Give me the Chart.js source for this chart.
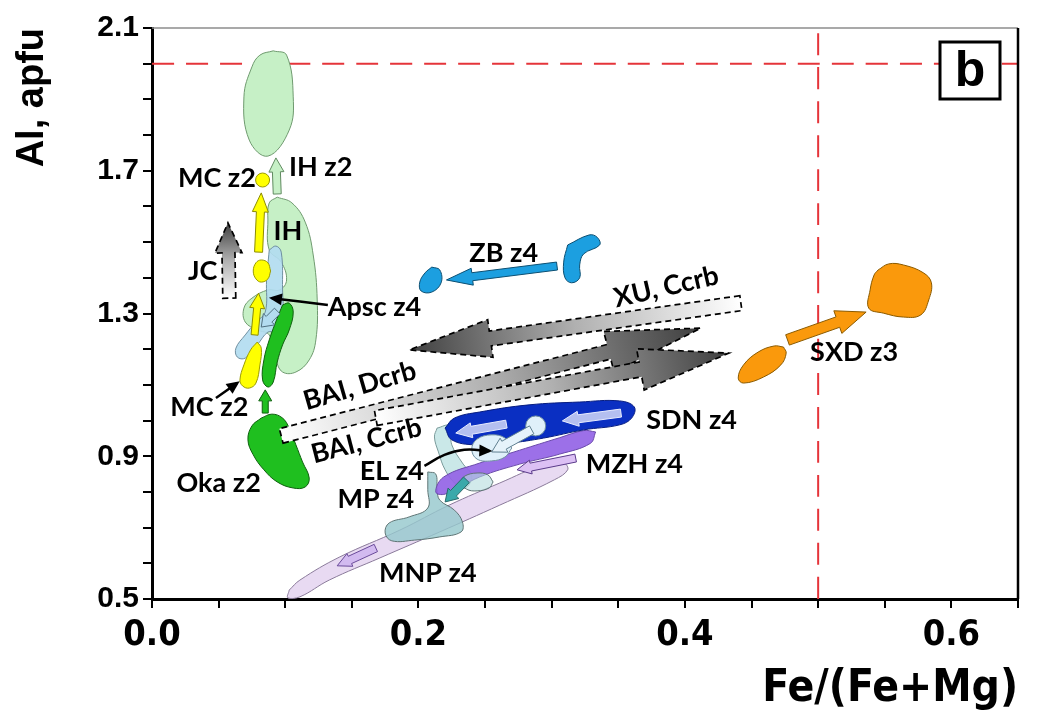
<!DOCTYPE html>
<html>
<head>
<meta charset="utf-8">
<script src="https://cdn.jsdelivr.net/npm/chart.js@4.4.1/dist/chart.umd.min.js"></script>
<style>html,body{margin:0;background:#fff}</style>
</head>
<body>
<canvas id="c" width="1042" height="726"></canvas>
<script>
// outlines of the fields, [Fe/(Fe+Mg), Al]
const ihz2 = [[0.091,2.036],[0.101,2.024],[0.106,1.907],[0.103,1.814],[0.087,1.741],[0.073,1.786],[0.069,1.907],[0.075,1.991],[0.081,2.024]];
const ih = [[0.094,1.626],[0.105,1.610],[0.115,1.556],[0.121,1.464],[0.124,1.338],[0.123,1.226],[0.118,1.170],[0.108,1.136],[0.098,1.136],[0.093,1.170],[0.088,1.240],[0.079,1.254],[0.070,1.276],[0.069,1.315],[0.075,1.343],[0.087,1.366],[0.096,1.366],[0.101,1.394],[0.097,1.444],[0.088,1.478],[0.087,1.562],[0.088,1.610]];
const apsc = [[0.088,1.478],[0.093,1.489],[0.097,1.472],[0.098,1.366],[0.098,1.268],[0.093,1.248],[0.087,1.248],[0.079,1.212],[0.070,1.175],[0.064,1.178],[0.063,1.203],[0.070,1.240],[0.078,1.276],[0.085,1.304],[0.086,1.394]];
const mcEll = [[0.089,1.419],[0.087,1.442],[0.082,1.450],[0.078,1.442],[0.076,1.419],[0.078,1.397],[0.082,1.388],[0.087,1.397]];
const mcLow = [[0.079,1.220],[0.082,1.203],[0.081,1.156],[0.078,1.105],[0.073,1.091],[0.068,1.097],[0.066,1.114],[0.069,1.156],[0.074,1.198]];
const grnBar = [[0.098,1.324],[0.103,1.329],[0.106,1.304],[0.103,1.254],[0.098,1.212],[0.094,1.164],[0.091,1.108],[0.087,1.094],[0.083,1.114],[0.084,1.170],[0.088,1.226],[0.094,1.287]];
const oka = [[0.082,1.007],[0.090,1.018],[0.098,1.007],[0.103,0.979],[0.108,0.932],[0.113,0.884],[0.118,0.839],[0.115,0.814],[0.106,0.811],[0.094,0.828],[0.084,0.862],[0.076,0.904],[0.072,0.946],[0.075,0.985]];
const mnp = [[0.103,0.525],[0.111,0.553],[0.141,0.618],[0.186,0.693],[0.223,0.763],[0.261,0.825],[0.294,0.876],[0.309,0.881],[0.312,0.862],[0.302,0.834],[0.261,0.763],[0.216,0.688],[0.171,0.615],[0.133,0.553],[0.111,0.506],[0.102,0.503]];
const mp = [[0.207,0.856],[0.213,0.850],[0.214,0.806],[0.216,0.777],[0.227,0.749],[0.233,0.716],[0.232,0.688],[0.216,0.674],[0.197,0.665],[0.180,0.663],[0.175,0.685],[0.178,0.713],[0.193,0.730],[0.207,0.755],[0.207,0.806]];
const elBand = [[0.214,0.979],[0.223,0.985],[0.225,0.932],[0.233,0.881],[0.240,0.845],[0.235,0.811],[0.228,0.822],[0.220,0.862],[0.215,0.912],[0.212,0.954]];
const elTeal = [[0.256,0.828],[0.252,0.848],[0.244,0.853],[0.235,0.845],[0.232,0.828],[0.236,0.808],[0.244,0.803],[0.253,0.811]];
const mzh = [[0.333,0.968],[0.329,0.936],[0.306,0.906],[0.276,0.878],[0.246,0.842],[0.220,0.794],[0.213,0.800],[0.219,0.842],[0.246,0.881],[0.276,0.917],[0.306,0.952],[0.324,0.972]];
const sdn = [[0.220,0.979],[0.227,1.007],[0.246,1.024],[0.283,1.044],[0.321,1.052],[0.351,1.055],[0.362,1.038],[0.360,1.007],[0.351,0.988],[0.324,0.974],[0.294,0.951],[0.268,0.937],[0.242,0.932],[0.225,0.946]];
const elEll = [[0.270,0.923],[0.265,0.951],[0.255,0.960],[0.244,0.948],[0.240,0.920],[0.244,0.892],[0.255,0.887],[0.265,0.898]];
const zbSmall = [[0.210,1.430],[0.216,1.422],[0.217,1.386],[0.210,1.360],[0.202,1.363],[0.201,1.388],[0.205,1.414]];
const zbHook = [[0.312,1.492],[0.328,1.520],[0.334,1.514],[0.336,1.492],[0.324,1.467],[0.321,1.436],[0.321,1.400],[0.315,1.386],[0.310,1.400],[0.309,1.444]];
const sxdSmall = [[0.474,1.206],[0.476,1.189],[0.472,1.156],[0.459,1.122],[0.444,1.105],[0.440,1.119],[0.444,1.156],[0.455,1.192],[0.467,1.209]];
const sxdBig = [[0.545,1.422],[0.553,1.439],[0.564,1.436],[0.579,1.414],[0.585,1.386],[0.583,1.338],[0.577,1.296],[0.564,1.290],[0.549,1.301],[0.538,1.315],[0.539,1.366],[0.542,1.408]];
const mcDot = [[0.083,1.674]];
const elDot = [[0.288,0.985]];

// trend arrows, [tail, tip]
const yArrow1 = [[0.080,1.472],[0.082,1.638]];
const yArrow2 = [[0.077,1.240],[0.080,1.357]];
const ihArrow = [[0.094,1.635],[0.093,1.736]];
const okaArrow = [[0.085,1.021],[0.085,1.086]];
const apscArrow = [[0.094,1.307],[0.082,1.262]];
const zbArrow = [[0.304,1.433],[0.221,1.394]];
const sxdArrow = [[0.477,1.226],[0.536,1.304]];
const sdnArrow1 = [[0.352,1.021],[0.308,0.999]];
const sdnArrow2 = [[0.266,0.990],[0.228,0.965]];
const elArrow = [[0.285,0.974],[0.255,0.912]];
const mzhArrow = [[0.318,0.895],[0.274,0.862]];
const mpArrow = [[0.236,0.834],[0.220,0.772]];
const mnpArrow = [[0.168,0.643],[0.139,0.593]];
const jcArrow = [[0.058,1.343],[0.057,1.554]];
const xuBand = [[0.442,1.329],[0.193,1.198]];
const dcrbBand = [[0.097,0.957],[0.412,1.259]];
const ccrbBand = [[0.168,1.007],[0.433,1.189]];

// label pointers
const apscPtr = [[0.132,1.324],[0.090,1.343]];
const mcPtr = [[0.048,1.063],[0.064,1.105]];
const elPtr = [[0.2045,0.873],[0.2195,0.904],[0.2344,0.918],[0.2532,0.915]];

// reference lines
const redH = [[0,2.0],[0.65,2.0]];
const redV = [[0.5,0.5],[0.5,2.1]];

const labelText = ['MC z2','IH z2','IH','JC','Apsc z4','MC z2','Oka z2','BAI, Dcrb','BAI, Ccrb','EL z4','MP z4','MNP z4','SDN z4','MZH z4','ZB z4','XU, Ccrb','SXD z3'];
const labelX = [0.0487,0.1266,0.102,0.038,0.167,0.043,0.050,0.156,0.161,0.180,0.168,0.207,0.405,0.362,0.264,0.386,0.527];
const labelY = [1.680,1.710,1.531,1.419,1.318,1.038,0.825,1.097,0.943,0.859,0.778,0.573,1.002,0.878,1.470,1.374,1.192];
const labelAngle = [0,0,0,0,0,0,0,-16,-14.5,0,0,0,0,0,0,-13,0];

const xTicks = [0, 0.2, 0.4, 0.6];
const yTicks = [0.5, 0.9, 1.3, 1.7, 2.1];

const LBL = 'Lato, "Open Sans", sans-serif';
const AX = '"Liberation Sans", Arial, sans-serif';
const AXN = '"Liberation Sans Narrow", "DejaVu Sans Condensed", sans-serif';

function pts(a) { return a.map(p => ({x: p[0], y: p[1]})); }

function shape(a, fill, stroke) {
  const d = pts(a);
  d.push(d[0]);
  return {data: d, showLine: true, fill: 'shape', backgroundColor: fill, borderColor: stroke,
          borderWidth: 1, tension: 0.4, pointRadius: 0};
}
function dot(a, r, fill, stroke) {
  return {data: pts(a), showLine: false, pointRadius: r, backgroundColor: fill, borderColor: stroke, borderWidth: 1};
}
function line(a, color, w, dash) {
  return {data: pts(a), showLine: true, fill: false, borderColor: color, borderWidth: w,
          borderDash: dash || [], tension: 0.4, pointRadius: 0};
}

// bottom to top
const layers = [
  line(redH, '#e5343a', 2, [22, 12]),
  line(redV, '#e5343a', 2, [22, 12]),
  shape(ihz2, '#c6f0c6', '#6f9a6f'),
  shape(ih, '#c6f0c6', '#6f9a6f'),
  shape(apsc, 'rgba(178,220,240,0.92)', '#6f8fa0'),
  shape(mcEll, '#ffff00', '#9a9a00'),
  shape(mcLow, '#ffff00', '#9a9a00'),
  shape(grnBar, '#1fbf1f', '#0f600f'),
  shape(oka, '#1fbf1f', '#0f600f'),
  shape(mnp, '#e8daf2', '#8a7a9a'),
  shape(mp, 'rgba(150,200,205,0.82)', '#5f7575'),
  shape(elBand, 'rgba(196,230,230,0.9)', '#7a9a9a'),
  shape(mzh, 'rgba(148,100,230,0.92)', '#6a4aaa'),
  shape(elTeal, 'rgba(180,220,222,0.6)', '#5f7575'),
  shape(sdn, '#0a2fc2', '#061c80'),
  dot(elDot, 10, '#dff0fa', '#6f8fa0'),
  shape(elEll, '#dff0fa', '#6f8fa0'),
  shape(zbSmall, '#1c9fe0', '#0c4f72'),
  shape(zbHook, '#1c9fe0', '#0c4f72'),
  shape(sxdSmall, '#fa990c', '#8a5a00'),
  shape(sxdBig, '#fa990c', '#8a5a00'),
  dot(mcDot, 7, '#ffff00', '#9a9a00'),
  line(apscPtr, '#000', 2.5),
  line(mcPtr, '#000', 2.5),
  line(elPtr, '#000', 2.5)
];
const datasets = layers.map((d, i) => Object.assign(d, {order: layers.length - i}));

const arrowList = [
  {p: yArrow1, bw: 8, hw: 16, hl: 19, fill: '#ffff00', stroke: '#8c8c00'},
  {p: yArrow2, bw: 7, hw: 15, hl: 15, fill: '#ffff00', stroke: '#8c8c00'},
  {p: ihArrow, bw: 8, hw: 15, hl: 14, fill: '#c6f0c6', stroke: '#5f8a5f'},
  {p: okaArrow, bw: 6, hw: 13, hl: 11, fill: '#1fbf1f', stroke: '#0f600f'},
  {p: apscArrow, bw: 8, hw: 16, hl: 11, fill: '#b2dcf0', stroke: '#4f6f80'},
  {p: zbArrow, bw: 8, hw: 17, hl: 26, fill: '#1c9fe0', stroke: '#0c4f72'},
  {p: sxdArrow, bw: 11, hw: 24, hl: 30, fill: '#fa990c', stroke: '#8a5a00'},
  {p: sdnArrow1, bw: 8, hw: 15, hl: 16, fill: '#b4bff0', stroke: '#e8ecff'},
  {p: sdnArrow2, bw: 8, hw: 15, hl: 16, fill: '#b4bff0', stroke: '#e8ecff'},
  {p: elArrow, bw: 9, hw: 16, hl: 14, fill: '#e6f3fb', stroke: '#5f7f90'},
  {p: mzhArrow, bw: 8, hw: 14, hl: 14, fill: '#dcc0f4', stroke: '#5a3a8a'},
  {p: mpArrow, bw: 8, hw: 15, hl: 12, fill: '#3aa9aa', stroke: '#2a6a6a'},
  {p: mnpArrow, bw: 8, hw: 14, hl: 14, fill: '#d2baf0', stroke: '#6a4a9a'}
];
const bandList = [
  {p: xuBand, bw: 15, hw: 38, hl: 82},
  {p: dcrbBand, bw: 15, hw: 42, hl: 95},
  {p: ccrbBand, bw: 15, hw: 42, hl: 90},
  {p: jcArrow, bw: 13, hw: 27, hl: 30}
];

function arrowPath(ctx, a, b, bw, hw, hl) {
  const dx = b[0] - a[0], dy = b[1] - a[1], L = Math.hypot(dx, dy);
  const ux = dx / L, uy = dy / L, nx = -uy, ny = ux;
  const bx = b[0] - ux * hl, by = b[1] - uy * hl;
  ctx.beginPath();
  ctx.moveTo(a[0] + nx * bw / 2, a[1] + ny * bw / 2);
  ctx.lineTo(bx + nx * bw / 2, by + ny * bw / 2);
  ctx.lineTo(bx + nx * hw / 2, by + ny * hw / 2);
  ctx.lineTo(b[0], b[1]);
  ctx.lineTo(bx - nx * hw / 2, by - ny * hw / 2);
  ctx.lineTo(bx - nx * bw / 2, by - ny * bw / 2);
  ctx.lineTo(a[0] - nx * bw / 2, a[1] - ny * bw / 2);
  ctx.closePath();
}

const decor = {
  id: 'decor',
  afterDatasetsDraw(chart) {
    const {ctx, chartArea: ca, scales: {x, y}} = chart;
    const P = q => [x.getPixelForValue(q[0]), y.getPixelForValue(q[1])];
    ctx.save();
    // grey dashed trend bands
    bandList.forEach(s => {
      const a = P(s.p[0]), b = P(s.p[1]);
      const g = ctx.createLinearGradient(a[0], a[1], b[0], b[1]);
      g.addColorStop(0, '#ffffff');
      g.addColorStop(0.5, '#b0b0b0');
      g.addColorStop(1, '#3f3f3f');
      arrowPath(ctx, a, b, s.bw, s.hw, s.hl);
      ctx.fillStyle = g;
      ctx.fill();
      ctx.setLineDash([6, 4]);
      ctx.lineWidth = 1.7;
      ctx.strokeStyle = '#000';
      ctx.stroke();
    });
    ctx.setLineDash([]);
    arrowList.forEach(s => {
      arrowPath(ctx, P(s.p[0]), P(s.p[1]), s.bw, s.hw, s.hl);
      ctx.fillStyle = s.fill;
      ctx.fill();
      ctx.lineWidth = 1;
      ctx.strokeStyle = s.stroke;
      ctx.stroke();
    });
    // pointer heads
    [apscPtr, mcPtr, elPtr].forEach(p => {
      const a = P(p[p.length - 2]), b = P(p[p.length - 1]);
      const L = Math.hypot(b[0] - a[0], b[1] - a[1]);
      const ux = (b[0] - a[0]) / L, uy = (b[1] - a[1]) / L;
      ctx.beginPath();
      ctx.moveTo(b[0] + ux * 3, b[1] + uy * 3);
      ctx.lineTo(b[0] - ux * 10 - uy * 6, b[1] - uy * 10 + ux * 6);
      ctx.lineTo(b[0] - ux * 10 + uy * 6, b[1] - uy * 10 - ux * 6);
      ctx.closePath();
      ctx.fillStyle = '#000';
      ctx.fill();
    });
    // labels
    ctx.fillStyle = '#000';
    ctx.font = 'bold 27px ' + LBL;
    ctx.textAlign = 'center';
    ctx.textBaseline = 'middle';
    labelText.forEach((t, i) => {
      ctx.save();
      ctx.translate(x.getPixelForValue(labelX[i]), y.getPixelForValue(labelY[i]));
      ctx.rotate(labelAngle[i] * Math.PI / 180);
      ctx.fillText(t, 0, 0);
      ctx.restore();
    });
    // panel letter
    const bx = ca.right - 78, by = ca.top + 14;
    ctx.fillStyle = '#fff';
    ctx.fillRect(bx, by, 60, 57);
    ctx.lineWidth = 3;
    ctx.strokeStyle = '#000';
    ctx.strokeRect(bx, by, 60, 57);
    ctx.fillStyle = '#000';
    ctx.font = 'bold 50px ' + AX;
    ctx.fillText('b', bx + 30, by + 30);
    // frame
    ctx.lineWidth = 1.5;
    ctx.strokeStyle = '#8c8c8c';
    ctx.beginPath();
    ctx.moveTo(ca.left, ca.top);
    ctx.lineTo(ca.right, ca.top);
    ctx.stroke();
    ctx.lineWidth = 2.5;
    ctx.strokeStyle = '#000';
    ctx.beginPath();
    ctx.moveTo(ca.right, ca.top);
    ctx.lineTo(ca.right, ca.bottom);
    ctx.stroke();
    ctx.restore();
  }
};

const near = (v, list) => list.some(t => Math.abs(v - t) < 1e-6);

new Chart(document.getElementById('c'), {
  type: 'scatter',
  data: {datasets},
  options: {
    responsive: false,
    animation: false,
    layout: {padding: {top: 28, right: 24, left: 0, bottom: 0}},
    plugins: {legend: {display: false}, tooltip: {enabled: false}},
    scales: {
      x: {
        type: 'linear', min: 0, max: 0.65,
        afterFit: s => { s.height = 127; },
        border: {display: true, color: '#000', width: 3},
        grid: {drawOnChartArea: false, drawTicks: true, tickLength: 9, color: '#000', lineWidth: 2},
        ticks: {
          stepSize: 0.05, autoSkip: false, maxRotation: 0, padding: 6, color: '#000',
          font: {family: AXN, size: 36, weight: 'bold'},
          callback: v => near(v, xTicks) ? v.toFixed(1) : ''
        },
        title: {display: true, text: 'Fe/(Fe+Mg)', align: 'end', color: '#000',
                font: {family: AXN, size: 44, weight: 'bold'}, padding: {top: 0, bottom: 10}}
      },
      y: {
        type: 'linear', min: 0.5, max: 2.1,
        afterFit: s => { s.width = 152; },
        border: {display: true, color: '#000', width: 3},
        grid: {drawOnChartArea: false, drawTicks: true, tickLength: 9, color: '#000', lineWidth: 2},
        ticks: {
          stepSize: 0.1, autoSkip: false, padding: 4, color: '#000',
          font: {family: AX, size: 30, weight: 'bold'},
          callback: v => near(v, yTicks) ? v.toFixed(1) : ''
        },
        title: {display: true, text: 'Al, apfu', align: 'end', color: '#000',
                font: {family: AX, size: 38, weight: 'bold'}, padding: {top: 10, bottom: 0}}
      }
    }
  },
  plugins: [decor]
});
</script>
</body>
</html>
